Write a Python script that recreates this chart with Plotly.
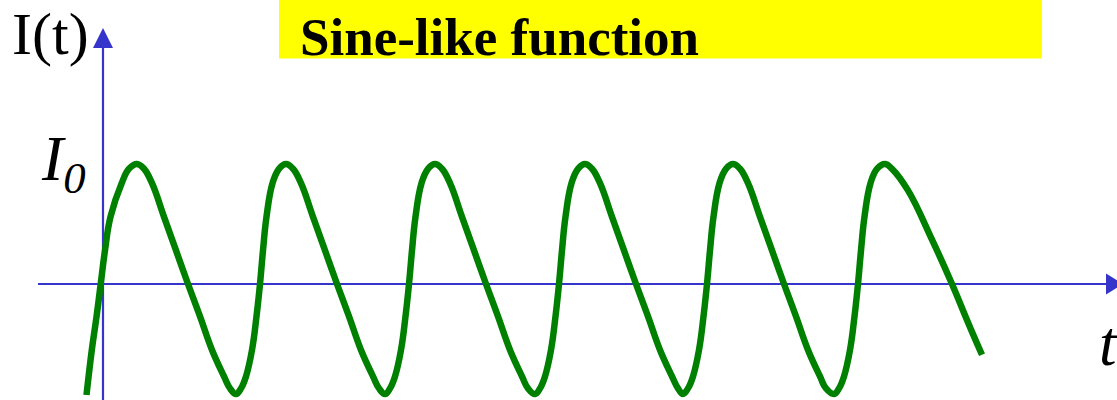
import plotly.graph_objects as go

# Curve: t = horizontal position (origin at the vertical axis), I in units of I0
t_vals = [-16.5, -11.2, -6.6, -2.3, 2, 7.5, 18.7, 26, 34,
          41, 49, 61, 73, 85, 97, 109, 121, 127, 133,
          138, 143, 149, 153.5, 157, 160, 163.5, 169.5, 176, 183,
          190, 198, 210, 222, 234, 246, 258, 270, 276, 282,
          287, 292, 298, 302.5, 306, 309, 312.5, 318.5, 325, 332,
          339, 347, 359, 371, 383, 395, 407, 419, 425, 432,
          437, 442, 448, 452.5, 456, 459, 462.5, 468.5, 475, 482,
          489, 497, 509, 521, 533, 545, 557, 569, 575, 580,
          585, 590, 596, 600.5, 604, 607, 610.5, 616.5, 623, 630,
          637, 645, 657, 669, 681, 693, 705, 717, 723, 731,
          736, 741, 747, 751.5, 755, 758, 761.5, 767.5, 774, 782,
          789, 805, 829, 849, 865, 879]
i_vals = [-0.925, -0.55, -0.28, 0.0, 0.28, 0.56, 0.84, 0.96, 1.0,
          0.96, 0.84, 0.56, 0.28, 0.0, -0.27, -0.55, -0.77, -0.87, -0.917,
          -0.87, -0.77, -0.55, -0.27, 0.0, 0.28, 0.56, 0.84, 0.96, 1.0,
          0.96, 0.84, 0.56, 0.28, 0.0, -0.27, -0.55, -0.77, -0.87, -0.917,
          -0.87, -0.77, -0.55, -0.27, 0.0, 0.28, 0.56, 0.84, 0.96, 1.0,
          0.96, 0.84, 0.56, 0.28, 0.0, -0.27, -0.55, -0.77, -0.87, -0.917,
          -0.87, -0.77, -0.55, -0.27, 0.0, 0.28, 0.56, 0.84, 0.96, 1.0,
          0.96, 0.84, 0.56, 0.28, 0.0, -0.27, -0.55, -0.77, -0.87, -0.917,
          -0.87, -0.77, -0.55, -0.27, 0.0, 0.28, 0.56, 0.84, 0.96, 1.0,
          0.96, 0.84, 0.56, 0.28, 0.0, -0.27, -0.55, -0.77, -0.87, -0.917,
          -0.87, -0.77, -0.55, -0.27, 0.0, 0.28, 0.56, 0.84, 0.96, 1.0,
          0.96, 0.78, 0.37, 0.0, -0.32, -0.59]

title_text = "Sine-like function"
y_label = "I(t)"
x_label = "t"
level_label = "I<sub>0</sub>"

W, H = 1117, 400
AX = "#3535cc"

fig = go.Figure()
fig.add_trace(go.Scatter(x=t_vals, y=i_vals, mode="lines",
                         line=dict(color="#008000", width=6.5, shape="spline", smoothing=1.2),
                         hoverinfo="skip", showlegend=False))

# pixel helpers (plot area = whole figure)
X0, Y0, SY = 103, 284, 120.0
def dx(px): return px - X0
def dy(py): return (Y0 - py) / SY

shapes = [
    dict(type="rect", xref="x", yref="y", x0=dx(279), x1=dx(1042), y0=dy(-2), y1=dy(58.5),
         fillcolor="#ffff00", line=dict(width=0), layer="below"),
    dict(type="line", xref="x", yref="y", x0=dx(38), x1=dx(1108), y0=0, y1=0,
         line=dict(color=AX, width=2.2), layer="below"),
    dict(type="line", xref="x", yref="y", x0=0, x1=0, y0=dy(402), y1=dy(46),
         line=dict(color=AX, width=2.2), layer="below"),
    dict(type="path", xref="x", yref="y",
         path=f"M {dx(93)},{dy(48)} L {dx(113)},{dy(48)} L {dx(103)},{dy(28)} Z",
         fillcolor=AX, line=dict(width=0)),
    dict(type="path", xref="x", yref="y",
         path=f"M {dx(1106)},{dy(273.5)} L {dx(1106)},{dy(294.5)} L {dx(1123)},{dy(284)} Z",
         fillcolor=AX, line=dict(width=0)),
]

serif = "Liberation Serif, Times New Roman, serif"
annotations = [
    dict(text=f"<b>{title_text}</b>", xref="paper", yref="paper", x=298 / W, y=1 - 37 / H,
         xanchor="left", yanchor="middle", showarrow=False,
         font=dict(family=serif, size=53, color="black")),
    dict(text=y_label, xref="paper", yref="paper", x=10 / W, y=1 - 34 / H,
         xanchor="left", yanchor="middle", showarrow=False,
         font=dict(family=serif, size=60, color="black")),
    dict(text=f"<i>{level_label}</i>", xref="paper", yref="paper", x=39 / W, y=1 - 163 / H,
         xanchor="left", yanchor="middle", showarrow=False,
         font=dict(family=serif, size=64, color="black")),
    dict(text=f"<i>{x_label}</i>", xref="paper", yref="paper", x=1097 / W, y=1 - 344 / H,
         xanchor="left", yanchor="middle", showarrow=False,
         font=dict(family=serif, size=63, color="black")),
]

fig.update_layout(
    width=W, height=H,
    margin=dict(l=0, r=0, t=0, b=0),
    paper_bgcolor="white", plot_bgcolor="white",
    xaxis=dict(range=[dx(0), dx(W)], visible=False, fixedrange=True),
    yaxis=dict(range=[dy(H), dy(0)], visible=False, fixedrange=True),
    shapes=shapes, annotations=annotations, showlegend=False,
)

fig.write_html("out.html", config={"displayModeBar": False},
               post_script="document.body.style.margin='0px';document.body.style.overflow='hidden';")
